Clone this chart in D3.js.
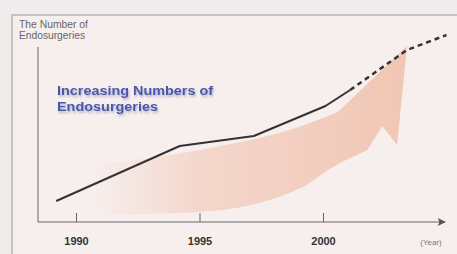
<!doctype html>
<html lang="en">
<head>
  <meta charset="UTF-8">
  <title>Endosurgeries</title>
  <style>
    body { margin: 0; background: #f1ecec; }
    svg { display: block; font-family: "Liberation Sans", Arial, sans-serif; }
  </style>
  <script src="https://cdn.jsdelivr.net/npm/d3@7"></script>
</head>
<body>
  <div id="container"></div>
  <script>
    // measured trend (solid) and projection (dashed)
    var years = [1989.2, 1994.2, 1997.2, 2000.1, 2001.1];
    var counts = [10.5, 38, 43, 58, 66];
    var projYears = [2001.1, 2003.4, 2005];
    var projCounts = [66, 86, 93.5];
    var tickYears = [1990, 1995, 2000];
    var yTitle = ["The Number of", "Endosurgeries"];
    var headline = ["Increasing Numbers of", "Endosurgeries"];
    // outline of the big decorative arrow, in year / count units
    var arrowBottom = [[1990.8, 3.5], [1995, 5], [1999.1, 17], [2000.4, 27.5], [2001.8, 36]];
    var arrowHead = [[2002.4, 48], [2003, 38.5], [2003.4, 88], [2000.6, 55]];
    var arrowTop = [[2000.6, 55], [1999, 47.5], [1995, 36], [1990.8, 28.5]];

    var width = 457, height = 254;
    var svg = d3.select('#container').append('svg').attr('width', width).attr('height', height);

    var x = d3.scaleLinear().domain([1990, 2000]).range([76, 323]);
    var y = d3.scaleLinear().domain([0, 100]).range([222, 22]);

    var defs = svg.append('defs');
    var grad = defs.append('linearGradient').attr('id', 'pink')
      .attr('gradientUnits', 'userSpaceOnUse')
      .attr('x1', x(1990.5)).attr('x2', x(2003)).attr('y1', 0).attr('y2', 0);
    grad.append('stop').attr('offset', 0).attr('stop-color', '#f4d4c8').attr('stop-opacity', 0);
    grad.append('stop').attr('offset', 0.35).attr('stop-color', '#f3cfc1').attr('stop-opacity', 0.75);
    grad.append('stop').attr('offset', 1).attr('stop-color', '#f1c6b4').attr('stop-opacity', 1);

    var shadow = defs.append('filter').attr('id', 'shadow').attr('x', '-5%').attr('y', '-20%').attr('width', '110%').attr('height', '150%');
    shadow.append('feGaussianBlur').attr('in', 'SourceAlpha').attr('stdDeviation', 1.2).attr('result', 'b');
    shadow.append('feOffset').attr('in', 'b').attr('dx', 1).attr('dy', 1.5).attr('result', 'o');
    shadow.append('feFlood').attr('flood-color', '#7d84b8').attr('flood-opacity', 0.6);
    shadow.append('feComposite').attr('in2', 'o').attr('operator', 'in').attr('result', 's');
    shadow.append('feGaussianBlur').attr('in', 'SourceGraphic').attr('stdDeviation', 0.35).attr('result', 't');
    var m = shadow.append('feMerge');
    m.append('feMergeNode').attr('in', 's');
    m.append('feMergeNode').attr('in', 't');

    defs.append('marker').attr('id', 'arr').attr('viewBox', '0 0 10 10')
      .attr('refX', 9).attr('refY', 5).attr('markerWidth', 10).attr('markerHeight', 8)
      .attr('markerUnits', 'userSpaceOnUse').attr('orient', 'auto')
      .append('path').attr('d', 'M0,0L10,5L0,10L2,5Z').attr('fill', '#555');

    // panel
    svg.append('rect').attr('x', 12).attr('y', 15).attr('width', 470).attr('height', 270)
      .attr('fill', '#f7efed').attr('stroke', '#bab2b6').attr('stroke-width', 1.5);

    // big arrow
    var pt = function (d) { return [x(d[0]), y(d[1])]; };
    var smooth = d3.line().curve(d3.curveMonotoneX);
    var p = smooth(arrowBottom.map(pt));
    p += 'L' + arrowHead.map(pt).map(function (d) { return d.join(','); }).join('L');
    p += smooth(arrowTop.map(pt)).replace(/^M/, 'L') + 'Z';
    svg.append('path').attr('d', p).attr('fill', 'url(#pink)');

    // axes
    svg.append('line').attr('x1', 38).attr('x2', 38).attr('y1', 47).attr('y2', y(0))
      .attr('stroke', '#666').attr('stroke-width', 1);
    svg.append('line').attr('x1', 38).attr('x2', 445).attr('y1', y(0)).attr('y2', y(0))
      .attr('stroke', '#666').attr('stroke-width', 1).attr('marker-end', 'url(#arr)');

    var xAxis = d3.axisBottom(x).tickValues(tickYears).tickFormat(d3.format('d'))
      .tickSizeInner(-9).tickSizeOuter(0).tickPadding(15);
    var ax = svg.append('g').attr('transform', 'translate(0,' + y(0) + ')').call(xAxis);
    ax.select('.domain').remove();
    ax.selectAll('.tick line').attr('stroke', '#666');
    ax.selectAll('.tick text').attr('fill', '#333').attr('font-size', 11).attr('font-weight', 'bold')
      .attr('font-family', '"Liberation Sans", Arial, sans-serif');

    svg.append('text').attr('x', 431).attr('y', 245).attr('text-anchor', 'middle')
      .attr('font-size', 8).attr('fill', '#777').text('(Year)');

    var titleLen = [69, 66];
    svg.append('g').selectAll('text').data(yTitle).join('text')
      .attr('x', 19).attr('y', function (d, i) { return 28 + i * 11; })
      .attr('font-size', 10).attr('fill', '#666')
      .attr('textLength', function (d, i) { return titleLen[i]; })
      .attr('lengthAdjust', 'spacingAndGlyphs')
      .text(function (d) { return d; });

    var headLen = [156, 101];
    svg.append('g').attr('filter', 'url(#shadow)').selectAll('text').data(headline).join('text')
      .attr('x', 57).attr('y', function (d, i) { return 95 + i * 16; })
      .attr('font-size', 13).attr('font-weight', 'bold').attr('fill', '#4a58a6')
      .attr('textLength', function (d, i) { return headLen[i]; })
      .attr('lengthAdjust', 'spacingAndGlyphs')
      .text(function (d) { return d; });

    // trend lines
    var line = d3.line().x(function (d) { return x(d[0]); }).y(function (d) { return y(d[1]); });
    svg.append('path').attr('d', line(d3.zip(years, counts)))
      .attr('fill', 'none').attr('stroke', '#333').attr('stroke-width', 2).attr('stroke-linejoin', 'round');
    svg.append('path').attr('d', line(d3.zip(projYears, projCounts)))
      .attr('fill', 'none').attr('stroke', '#333').attr('stroke-width', 2.5).attr('stroke-dasharray', '5,4');
  </script>
</body>
</html>
